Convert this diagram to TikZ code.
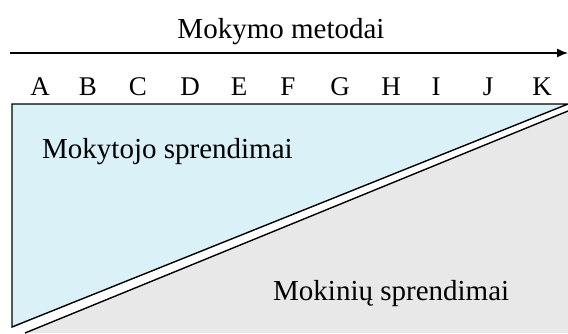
\documentclass[tikz,border=0pt]{standalone}
\usepackage{fontspec}
\setmainfont{Liberation Serif}
\usetikzlibrary{arrows.meta}
\definecolor{teacherblue}{RGB}{218,241,247}
\definecolor{studentgray}{RGB}{232,232,232}
\tikzset{
  lbl/.style={font=\fontsize{29}{32}\selectfont, inner sep=0pt},
  letter/.style={font=\fontsize{27}{30}\selectfont, inner sep=0pt, anchor=base},
  outline/.style={draw=black, line width=1.4pt, line join=miter},
}
\begin{document}
\begin{tikzpicture}[x=1pt,y=-1pt]
\useasboundingbox (0,0) rectangle (568,333);
\clip (0,0) rectangle (568,333);
% title
\node[lbl, anchor=base] (title) at (281,38) {Mokymo metodai};
% axis arrow
\coordinate (axstart) at (10,53);
\coordinate (axend) at (568,53);
\draw[line width=1.4pt, -{Latex[length=11pt,width=9pt]}] (axstart) -- (axend);
% letters
\foreach \n/\x in {A/40,B/88,C/138,D/190,E/239,F/288,G/340,H/391,I/436,J/488,K/542}{
  \node[letter] (l\n) at (\x,95) {\n};
}
% regions
\coordinate (tl) at (12,104);
\coordinate (tr) at (568,104);
\coordinate (bl) at (12,327);
\coordinate (gbl) at (25,333);
\coordinate (gtr) at (568,111);
\coordinate (gbr) at (568,333);
\fill[studentgray] (gbl) -- (gtr) -- (gbr) -- cycle;
\draw[outline] (gbl) -- (gtr);
\fill[teacherblue] (tl) -- (tr) -- (bl) -- cycle;
\draw[outline] (tr) -- (tl) -- (bl) -- cycle;
% labels
\node[lbl, anchor=base west] (teacher) at (42,158) {Mokytojo sprendimai};
\node[lbl, anchor=base west] (student) at (273,300) {Mokinių sprendimai};
\end{tikzpicture}
\end{document}
